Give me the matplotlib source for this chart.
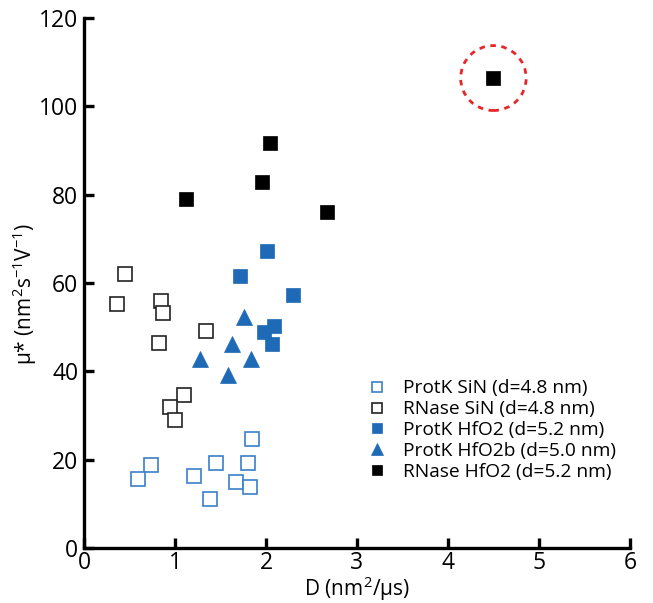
import matplotlib
matplotlib.use("Agg")
import matplotlib.pyplot as plt
from matplotlib.patches import Ellipse

FONT = "Open Sans"
plt.rcParams['font.family'] = [FONT, 'DejaVu Sans']
plt.rcParams['mathtext.fontset'] = 'custom'
plt.rcParams['mathtext.rm'] = FONT
plt.rcParams['mathtext.it'] = FONT + ':italic'
plt.rcParams['mathtext.bf'] = FONT + ':bold'

# ---- data ----
protk_sin_D  = [1.85, 0.74, 0.59, 1.21, 1.45, 1.80, 1.67, 1.83, 1.39]
protk_sin_mu = [24.6, 18.8, 15.6, 16.3, 19.2, 19.2, 14.9, 13.8, 11.2]

rnase_sin_D  = [0.45, 0.36, 0.85, 0.87, 1.34, 0.83, 1.10, 0.95, 1.00]
rnase_sin_mu = [62.0, 55.3, 56.0, 53.2, 49.2, 46.5, 34.7, 32.0, 29.0]

protk_hfo2_D  = [2.01, 1.72, 2.30, 2.09, 1.98, 2.07]
protk_hfo2_mu = [67.2, 61.6, 57.3, 50.3, 49.0, 46.3]

protk_hfo2b_D  = [1.76, 1.63, 1.27, 1.84, 1.58]
protk_hfo2b_mu = [52.3, 46.3, 42.8, 42.9, 39.2]

rnase_hfo2_D  = [4.50, 2.04, 1.96, 1.12, 2.67]
rnase_hfo2_mu = [106.4, 91.8, 82.9, 79.1, 76.1]

labels = ["ProtK SiN (d=4.8 nm)", "RNase SiN (d=4.8 nm)", "ProtK HfO2 (d=5.2 nm)",
          "ProtK HfO2b (d=5.0 nm)", "RNase HfO2 (d=5.2 nm)"]

xticks = [0, 1, 2, 3, 4, 5, 6]
yticks = [0, 20, 40, 60, 80, 100, 120]

BLUE = "#1f6ab7"
LBLUE = "#3a80c9"

fig = plt.figure(figsize=(6.53, 6.03), dpi=100)
ax = fig.add_axes([0.1286, 0.0912, 0.836, 0.879])

ax.plot(protk_sin_D, protk_sin_mu, 's', ms=10, mfc='white', mec=LBLUE, mew=1.2,
        ls='none', label=labels[0])
ax.plot(rnase_sin_D, rnase_sin_mu, 's', ms=10, mfc='white', mec='#222222', mew=1.2,
        ls='none', label=labels[1])
ax.plot(protk_hfo2_D, protk_hfo2_mu, 's', ms=10, mfc=BLUE, mec=BLUE, mew=0.5,
        ls='none', label=labels[2])
ax.plot(protk_hfo2b_D, protk_hfo2b_mu, '^', ms=12, mfc=BLUE, mec=BLUE, mew=0.5,
        ls='none', label=labels[3])
ax.plot(rnase_hfo2_D, rnase_hfo2_mu, 's', ms=10, mfc='black', mec='black', mew=0.5,
        ls='none', label=labels[4])

# red dashed circle around the outlier
ax.add_patch(Ellipse((rnase_hfo2_D[0], rnase_hfo2_mu[0]), 0.72, 14.7, fill=False,
                     ec='#e8262a', lw=2.0, ls=(0, (2, 2))))

ax.set_xlim(0, 6)
ax.set_ylim(0, 120)
ax.set_xticks(xticks)
ax.set_yticks(yticks)
for s in ['top', 'right']:
    ax.spines[s].set_visible(False)
for s in ['left', 'bottom']:
    ax.spines[s].set_linewidth(2.4)
ax.tick_params(direction='in', length=7, width=2.4, labelsize=16.5, pad=4)
ax.tick_params(axis='x', pad=2)

ax.set_xlabel(r'D (nm$^2$/μs)', fontsize=15, labelpad=0)
ax.set_ylabel(r'μ* (nm$^2$s$^{-1}$V$^{-1}$)', fontsize=15)
ax.yaxis.set_label_coords(-0.082, 0.48)

ax.legend(loc='upper left', bbox_to_anchor=(0.516, 0.318), frameon=False,
          fontsize=13.8, handletextpad=0.75, labelspacing=0.15, handlelength=1.2,
          borderaxespad=0.0, borderpad=0.0, markerscale=0.75)

fig.savefig("out.png", dpi=100)
